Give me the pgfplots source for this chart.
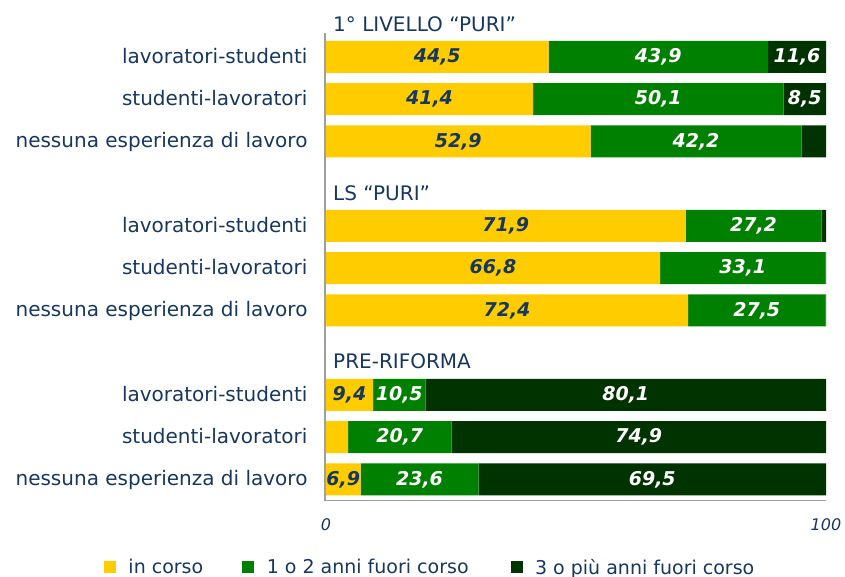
\documentclass[border=0pt]{standalone}
\usepackage{fontspec}
\setmainfont{DejaVu Sans}
\usepackage{pgfplots}
\usepackage{pgfplotstable}
\pgfplotsset{compat=1.18}
\definecolor{cyel}{HTML}{FFCC00}
\definecolor{cgrn}{HTML}{008000}
\definecolor{cdrk}{HTML}{003300}
\definecolor{navy}{HTML}{17375E}
\pgfplotstableread{
y a b c la lb lc
10 44.5 43.9 11.6 44,5 43,9 11,6
9 41.4 50.1 8.5 41,4 50,1 8,5
8 52.9 42.2 4.9 52,9 42,2 {}
6 71.9 27.2 0.9 71,9 27,2 {}
5 66.8 33.1 0.1 66,8 33,1 {}
4 72.4 27.5 0.1 72,4 27,5 {}
2 9.4 10.5 80.1 9,4 10,5 80,1
1 4.4 20.7 74.9 {} 20,7 74,9
0 6.9 23.6 69.5 6,9 23,6 69,5
}\data
\newcommand{\lab}{\fontsize{19bp}{22bp}\selectfont}
\newcommand{\labb}{\fontsize{20bp}{23bp}\selectfont}
\begin{document}
\begin{tikzpicture}
\begin{axis}[
  at={(325bp,76.3bp)}, anchor=south west,
  scale only axis, width=501bp, height=467.7bp,
  xmin=-0.2, xmax=100, ymin=-0.502, ymax=10.568,
  xbar stacked, bar width=0.757, bar shift=0pt,
  axis lines*=left,
  axis line style={draw=black!38, line width=1.2bp},
  major tick length=0pt,
  xtick={0,100}, xticklabels={0,100},
  xticklabel style={font=\fontsize{16bp}{19bp}\selectfont\itshape, text=navy, yshift=-13bp},
  ytick={10,9,8,6,5,4,2,1,0},
  yticklabels={lavoratori-studenti,studenti-lavoratori,nessuna esperienza di lavoro,lavoratori-studenti,studenti-lavoratori,nessuna esperienza di lavoro,lavoratori-studenti,studenti-lavoratori,nessuna esperienza di lavoro},
  yticklabel style={font=\labb, text=navy, xshift=-14bp, yshift=-1.5bp},
  typeset ticklabels with strut,
  clip=false,
  point meta=explicit symbolic,
  nodes near coords,
  nodes near coords style={font=\lab\bfseries\itshape, anchor=center},
  legend columns=3,
  legend style={at={(rel axis cs:0,0)}, anchor=west, xshift=-221bp, yshift=-66.5bp,
    draw=none, fill=none, inner sep=0pt, outer sep=0pt,
    font=\lab, text=navy,
    nodes={inner sep=0pt},
    /tikz/every odd column/.append style={column sep=12.5bp},
    /tikz/column 2/.append style={column sep=39bp},
    /tikz/column 4/.append style={column sep=42bp}},
  legend image code/.code={\fill[#1] (0bp,-6bp) rectangle (12bp,6bp);},
]
\addplot[fill=cyel, draw=none, nodes near coords style={text=navy}]
  table[x=a, y=y, meta=la]{\data};
\addlegendentry{in corso}
\addplot[fill=cgrn, draw=none, nodes near coords style={text=white}]
  table[x=b, y=y, meta=lb]{\data};
\addlegendentry{1 o 2 anni fuori corso}
\addplot[fill=cdrk, draw=none, nodes near coords style={text=white}]
  table[x=c, y=y, meta=lc]{\data};
\addlegendentry{3 o più anni fuori corso}
\node[anchor=base west, inner sep=0pt, font=\labb, text=navy] at (axis cs:1.4,10.6) {1° LIVELLO “PURI”};
\node[anchor=base west, inner sep=0pt, font=\labb, text=navy] at (axis cs:1.4,6.6) {LS “PURI”};
\node[anchor=base west, inner sep=0pt, font=\labb, text=navy] at (axis cs:1.4,2.62) {PRE-RIFORMA};
\end{axis}
\pgfresetboundingbox
\path[use as bounding box] (0,0) rectangle (845bp,577bp);
\end{tikzpicture}
\end{document}
